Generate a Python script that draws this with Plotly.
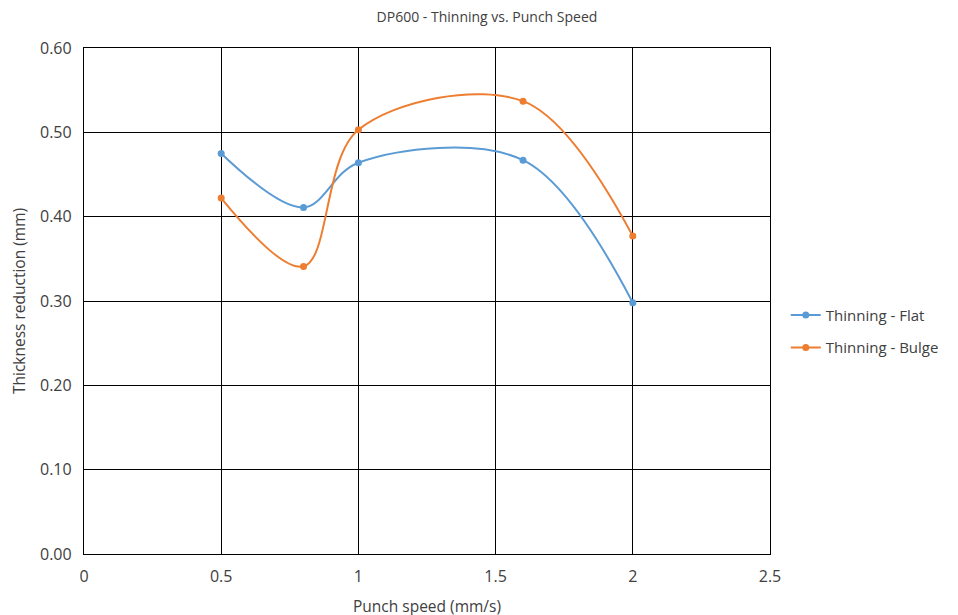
import plotly.graph_objects as go

speed = [0.5, 0.8, 1.0, 1.6, 2.0]
thinning_flat = [0.475, 0.411, 0.464, 0.467, 0.298]
thinning_bulge = [0.422, 0.341, 0.503, 0.537, 0.377]

x_ticks = [0, 0.5, 1, 1.5, 2, 2.5]
x_tick_labels = ["0", "0.5", "1", "1.5", "2", "2.5"]
y_ticks = [0.0, 0.1, 0.2, 0.3, 0.4, 0.5, 0.6]

font_family = "Open Sans, Liberation Sans, sans-serif"
text_color = "#404040"

fig = go.Figure()

fig.add_trace(go.Scatter(
    x=speed, y=thinning_flat,
    mode="lines+markers",
    name="Thinning - Flat",
    legendgroup="flat",
    line=dict(color="#5B9BD5", width=2, shape="spline", smoothing=1.0),
    marker=dict(size=7, color="#5B9BD5")
))
fig.add_trace(go.Scatter(
    x=speed, y=thinning_bulge,
    mode="lines+markers",
    name="Thinning - Bulge",
    legendgroup="bulge",
    line=dict(color="#ED7D31", width=2, shape="spline", smoothing=1.0),
    marker=dict(size=7, color="#ED7D31")
))

fig.update_layout(
    width=958, height=615,
    paper_bgcolor="white",
    plot_bgcolor="white",
    font=dict(family=font_family, size=15, color=text_color),
    title=dict(text="DP600 - Thinning vs. Punch Speed", x=0.5, xanchor="center",
               y=0.985, yanchor="middle", font=dict(size=14, color=text_color)),
    margin=dict(l=76, r=196, t=40, b=69),
    legend=dict(x=1.023, y=0.44, xanchor="left", yanchor="middle",
                itemwidth=30, traceorder="grouped", tracegroupgap=10,
                font=dict(size=15, color=text_color)),
    xaxis=dict(
        range=[0, 2.5], tickvals=x_ticks, ticktext=x_tick_labels,
        showgrid=True, gridcolor="black", gridwidth=1.3,
        showline=True, linecolor="black", linewidth=1.3, mirror=True,
        zeroline=False, ticks="outside", ticklen=8, tickcolor="white",
        title=dict(text="Punch speed (mm/s)", standoff=14, font=dict(size=15.5)),
        tickfont=dict(size=16, color=text_color),
    ),
    yaxis=dict(
        range=[0, 0.6], tickvals=y_ticks, tickformat=".2f",
        showgrid=True, gridcolor="black", gridwidth=1.3,
        showline=True, linecolor="black", linewidth=1.3, mirror=True,
        zeroline=False, ticks="outside", ticklen=8, tickcolor="white",
        title=dict(text="Thickness reduction (mm)", standoff=10, font=dict(size=15.5)),
        tickfont=dict(size=16, color=text_color),
    ),
)

fig.write_html("out.html")
